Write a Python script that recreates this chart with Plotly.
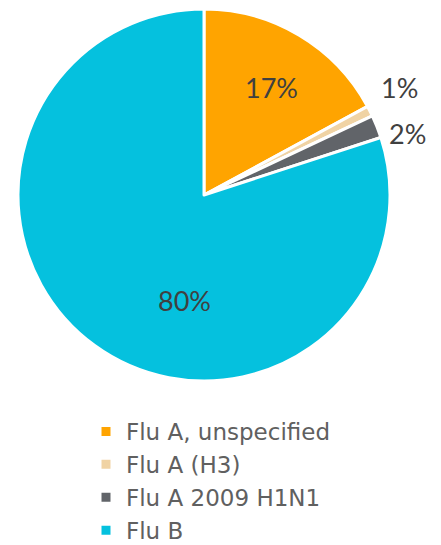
import math
import plotly.graph_objects as go

labels = ["Flu A, unspecified", "Flu A (H3)", "Flu A 2009 H1N1", "Flu B"]
values = [17.1, 0.9, 2.0, 80.0]
text_labels = ["17%", "1%", "2%", "80%"]
colors = ["#FFA400", "#F0D3A4", "#616469", "#05C1DE"]

# ---- layout / style constants (pixels) ----
W, H = 441, 545
CX, CY, R = 204, 195, 186
# per-label placement style: (angle nudge in degrees, radial distance as fraction of R)
label_style = [(1.3, 0.68), (-2.1, 1.20), (4.7, 1.146), (-25.7, 0.574)]

fig = go.Figure(go.Pie(
    labels=labels,
    values=values,
    textinfo="none",
    sort=False,
    direction="clockwise",
    rotation=0,
    marker=dict(colors=colors, line=dict(color="white", width=3)),
    domain=dict(x=[(CX - R) / W, (CX + R) / W], y=[1 - (CY + R) / H, 1 - (CY - R) / H]),
    hoverinfo="label+percent",
))

# data labels placed from the slice angles derived from the values
total = sum(values)
cum = 0.0
annotations = []
for v, t, (nudge, dist) in zip(values, text_labels, label_style):
    mid = (cum + v / 2) / total * 360.0 + nudge
    cum += v
    th = math.radians(mid)
    px = CX + dist * R * math.sin(th)
    py = CY - dist * R * math.cos(th)
    annotations.append(dict(
        x=px / W, y=1 - py / H, xref="paper", yref="paper",
        text=t, showarrow=False, xanchor="center", yanchor="middle",
        font=dict(family="Lato", size=27, color="#404040"),
    ))

fig.update_layout(
    width=W, height=H,
    margin=dict(l=0, r=0, t=0, b=0, autoexpand=False),
    paper_bgcolor="white",
    plot_bgcolor="white",
    showlegend=True,
    annotations=annotations,
    legend=dict(
        x=86 / W, y=1 - 410 / H, xanchor="left", yanchor="top",
        font=dict(family="DejaVu Sans", size=23, color="#606060"),
        itemwidth=30, tracegroupgap=0,
        bgcolor="rgba(0,0,0,0)",
    ),
)

fig.write_html("out.html", config={"displayModeBar": False},
               post_script="document.body.style.margin='0';")
